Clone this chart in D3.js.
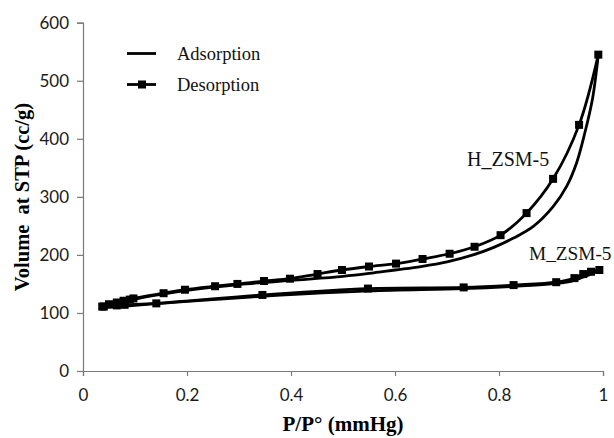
<!DOCTYPE html>
<html><head><meta charset="utf-8">
<script src="https://cdn.jsdelivr.net/npm/d3@7"></script>
<style>body{margin:0;background:#fff}</style>
</head><body>
<svg id="c" width="614" height="438"></svg>
<script>
const xTicks = [0, 0.2, 0.4, 0.6, 0.8, 1];
const yTicks = [0, 100, 200, 300, 400, 500, 600];
const hAdsorption = [[0.035,110],[0.05,114],[0.07,118],[0.1,124],[0.15,132],[0.2,139],[0.3,149],[0.4,156],[0.5,163],[0.55,168],[0.6,174],[0.65,180],[0.7,188],[0.75,200],[0.79,213],[0.828,229],[0.866,249],[0.904,283],[0.93,318],[0.949,358],[0.965,410],[0.98,470],[0.991,545]];
const hDesorption = [[0.037,111],[0.05,115],[0.065,118],[0.078,121],[0.09,123],[0.097,125],[0.155,134],[0.196,140],[0.254,146],[0.297,150],[0.348,155],[0.398,159],[0.451,167],[0.498,174],[0.55,180],[0.602,185],[0.653,193],[0.705,202],[0.753,214],[0.803,234],[0.853,272],[0.904,331],[0.954,424],[0.991,545]];
const mAdsorption = [[0.035,109],[0.07,111],[0.1,113],[0.14,116],[0.2,120],[0.35,129],[0.55,138],[0.73,142],[0.83,146],[0.9,150],[0.94,155],[0.96,161],[0.98,168],[0.993,174]];
const mDesorption = [[0.04,111],[0.065,113],[0.08,114],[0.141,116.5],[0.345,131],[0.548,142],[0.732,144],[0.828,148],[0.91,153],[0.945,160],[0.962,167],[0.977,171],[0.993,174]];
const seriesLabels = ["Adsorption", "Desorption"];
const sampleLabels = ["H_ZSM-5", "M_ZSM-5"];

const svg = d3.select("#c");
const x = d3.scaleLinear().domain([0,1]).range([83,603]);
const y = d3.scaleLinear().domain([0,600]).range([371,22.7]);
const axisColor = "#7a7a7a";
const tickFont = "Lato, 'Open Sans', sans-serif";
const serif = "'Liberation Serif', 'Times New Roman', serif";

const gx = svg.append("g").attr("transform", `translate(0,${y(0)})`)
  .call(d3.axisBottom(x).tickValues(xTicks).tickSize(5).tickPadding(13).tickFormat(d => d===0||d===1? String(d) : d3.format(".1f")(d)));
const gy = svg.append("g").attr("transform", `translate(${x(0)},0)`)
  .call(d3.axisLeft(y).tickValues(yTicks).tickSize(6).tickPadding(8).tickFormat(d3.format("d")));
[gx, gy].forEach(g => {
  g.select(".domain").attr("stroke", axisColor).attr("stroke-width", 1.2);
  g.selectAll(".tick line").attr("stroke", axisColor).attr("stroke-width", 1.2);
  g.selectAll(".tick text").attr("fill", "#1a1a1a").style("font-family", tickFont).style("font-size", "17px");
});

const line = d3.line().x(d => x(d[0])).y(d => y(d[1])).curve(d3.curveCatmullRom.alpha(0.5));
const plot = svg.append("g");
[hAdsorption, mAdsorption, hDesorption, mDesorption].forEach(s => {
  plot.append("path").datum(s.slice().sort((a,b)=>a[0]-b[0])).attr("d", line)
    .attr("fill","none").attr("stroke","#000").attr("stroke-width",2.8);
});
const ms = 8;
[hDesorption, mDesorption].forEach(s => {
  plot.selectAll(null).data(s).enter().append("rect")
    .attr("x", d => x(d[0]) - ms/2).attr("y", d => y(d[1]) - ms/2)
    .attr("width", ms).attr("height", ms).attr("fill", "#000");
});

// legend
const lg = svg.append("g");
lg.append("line").attr("x1",127).attr("x2",156).attr("y1",53.5).attr("y2",53.5).attr("stroke","#000").attr("stroke-width",2.8);
lg.append("line").attr("x1",127).attr("x2",156).attr("y1",84.5).attr("y2",84.5).attr("stroke","#000").attr("stroke-width",2.8);
lg.append("rect").attr("x",142-ms/2).attr("y",84.5-ms/2).attr("width",ms).attr("height",ms).attr("fill","#000");
lg.selectAll("text.lgt").data(seriesLabels).enter().append("text")
  .attr("x",177).attr("y",(d,i)=>59.5+i*31).text(d=>d)
  .style("font-family",serif).style("font-size","18.5px").attr("fill","#111");

svg.append("text").attr("x",467).attr("y",166).text(sampleLabels[0])
  .style("font-family",serif).style("font-size","20px").attr("fill","#111");
svg.append("text").attr("x",529).attr("y",260).text(sampleLabels[1])
  .style("font-family",serif).style("font-size","19.3px").attr("fill","#111");

// axis titles
svg.append("text").attr("x",343).attr("y",431).attr("text-anchor","middle")
  .text("P/P° (mmHg)").style("font-family",serif).style("font-weight","bold").style("font-size","21px");
svg.append("text").attr("transform","translate(29,197) rotate(-90)").attr("text-anchor","middle")
  .attr("xml:space","preserve").style("white-space","pre")
  .text("Volume  at STP (cc/g)").style("font-family",serif).style("font-weight","bold").style("font-size","20.5px");
</script>
</body></html>
